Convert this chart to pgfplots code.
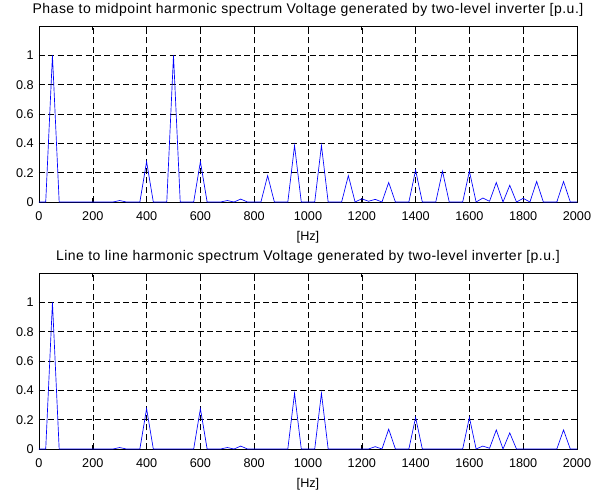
\documentclass[border=0pt]{standalone}
\usepackage{pgfplots}
\pgfplotsset{compat=1.18}
\usepackage{fontspec}
\setmainfont{Liberation Sans}
\newfontfamily\titlefont[LetterSpace=3.5]{Liberation Sans}
\pgfplotstableread{
f a
0 0
25 0
50 1
75 0
100 0
125 0
150 0
175 0
200 0
225 0
250 0
275 0
300 0.01
325 0
350 0
375 0
400 0.275
425 0
450 0
475 0
500 1
525 0
550 0
575 0
600 0.275
625 0
650 0
675 0
700 0.01
725 0
750 0.02
775 0
800 0
825 0
850 0.18
875 0
900 0
925 0
950 0.385
975 0
1000 0
1025 0
1050 0.385
1075 0
1100 0
1125 0
1150 0.18
1175 0
1200 0.022
1225 0.005
1250 0.018
1275 0
1300 0.133
1325 0
1350 0
1375 0
1400 0.217
1425 0
1450 0
1475 0
1500 0.21
1525 0
1550 0
1575 0
1600 0.21
1625 0
1650 0.027
1675 0.005
1700 0.133
1725 0
1750 0.114
1775 0
1800 0.025
1825 0
1850 0.14
1875 0
1900 0
1925 0
1950 0.14
1975 0
2000 0
}\phasedata
\pgfplotstableread{
f a
0 0
25 0
50 1
75 0
100 0
125 0
150 0
175 0
200 0
225 0
250 0
275 0
300 0.01
325 0
350 0
375 0
400 0.275
425 0
450 0
475 0
500 0
525 0
550 0
575 0
600 0.275
625 0
650 0
675 0
700 0.01
725 0
750 0.02
775 0
800 0
825 0
850 0
875 0
900 0
925 0
950 0.38
975 0
1000 0
1025 0
1050 0.38
1075 0
1100 0
1125 0
1150 0
1175 0
1200 0
1225 0
1250 0.016
1275 0
1300 0.135
1325 0
1350 0
1375 0
1400 0.215
1425 0
1450 0
1475 0
1500 0
1525 0
1550 0
1575 0
1600 0.215
1625 0
1650 0.02
1675 0.005
1700 0.13
1725 0
1750 0.11
1775 0
1800 0
1825 0
1850 0
1875 0
1900 0
1925 0
1950 0.13
1975 0
2000 0
}\linedata
\pgfplotsset{
  mstyle/.style={
    scale only axis,
    width=403.5pt, height=132pt,
    xmin=0, xmax=2000, ymin=0, ymax=1.2,
    xtick={0,200,...,2000},
    ytick={0,0.2,0.4,0.6,0.8,1},
    yticklabels={0,0.2,0.4,0.6,0.8,1},
    scaled x ticks=false,
    /pgf/number format/assume math mode=true,
    /pgf/number format/1000 sep={},
    tick align=inside,
    tick pos=both,
    major tick length=3pt,
    grid=major,
    major grid style={black, dash pattern=on 4.5pt off 2.5pt, line width=0.4pt},
    axis line style={black, line width=0.5pt},
    tick style={black, line width=0.5pt},
    every tick label/.style={font=\fontsize{9.5}{11}\selectfont},
    label style={font=\fontsize{9.5}{11}\selectfont},
    title style={font=\titlefont\fontsize{10.5}{12}\selectfont, yshift=-2pt},
    xlabel={[Hz]},
    xlabel style={yshift=-0.5pt},
    xticklabel style={yshift=-4pt},
    yticklabel style={xshift=-0.5pt},
  }
}
\begin{document}
\begin{tikzpicture}
\useasboundingbox (0,0) rectangle (444.75pt,-372.75pt);
\begin{axis}[mstyle, at={(29.25pt,-151.5pt)}, anchor=south west,
  title={Phase to midpoint harmonic spectrum Voltage generated by two-level inverter [p.u.]}]
\addplot[blue, line width=0.5pt, mark=none] table[x=f, y=a] {\phasedata};
\end{axis}
\begin{axis}[mstyle, at={(29.25pt,-336.75pt)}, anchor=south west,
  title={Line to line harmonic spectrum Voltage generated by two-level inverter [p.u.]}]
\addplot[blue, line width=0.5pt, mark=none] table[x=f, y=a] {\linedata};
\end{axis}
\end{tikzpicture}
\end{document}
